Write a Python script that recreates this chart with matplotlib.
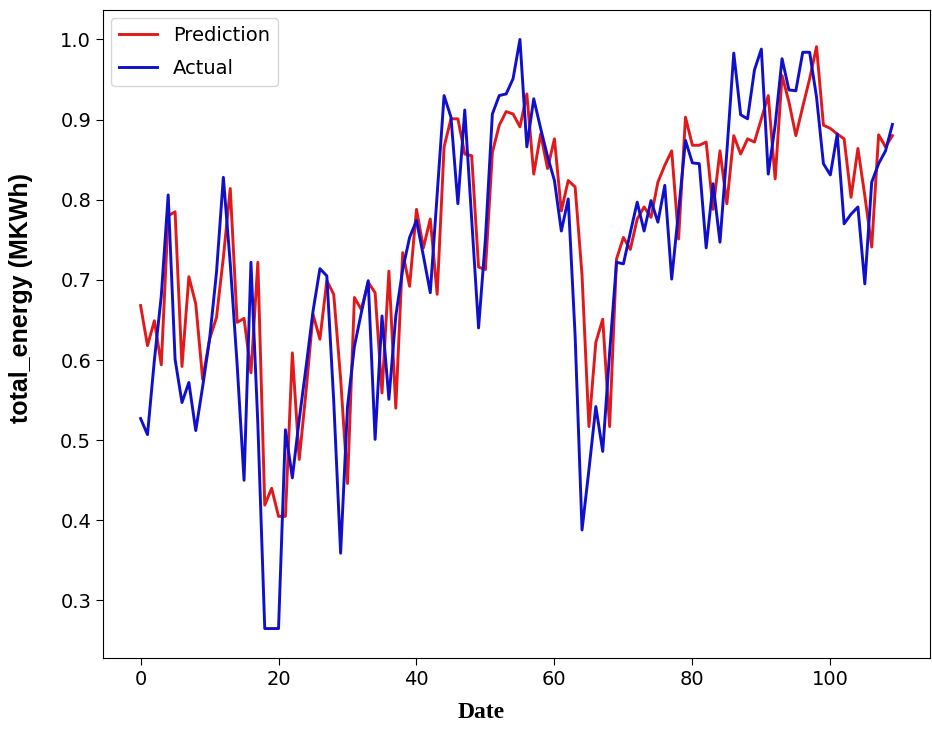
import matplotlib
matplotlib.use("Agg")
import matplotlib.pyplot as plt
import numpy as np

prediction = [
    0.668, 0.618, 0.649, 0.594, 0.780, 0.785, 0.592, 0.704, 0.670, 0.576,
    0.626, 0.653, 0.728, 0.814, 0.647, 0.652, 0.584, 0.722, 0.419, 0.440,
    0.405, 0.405, 0.609, 0.476, 0.562, 0.657, 0.626, 0.699, 0.682, 0.577,
    0.446, 0.678, 0.663, 0.697, 0.684, 0.559, 0.711, 0.540, 0.734, 0.692,
    0.788, 0.740, 0.776, 0.682, 0.866, 0.901, 0.901, 0.857, 0.855, 0.716,
    0.713, 0.859, 0.893, 0.910, 0.907, 0.891, 0.932, 0.832, 0.882, 0.839,
    0.876, 0.786, 0.824, 0.816, 0.706, 0.517, 0.622, 0.651, 0.517, 0.726,
    0.753, 0.738, 0.776, 0.791, 0.778, 0.822, 0.843, 0.861, 0.751, 0.903,
    0.868, 0.868, 0.872, 0.788, 0.861, 0.795, 0.880, 0.857, 0.876, 0.872,
    0.901, 0.930, 0.826, 0.955, 0.922, 0.880, 0.916, 0.951, 0.991, 0.893,
    0.889, 0.882, 0.876, 0.803, 0.864, 0.805, 0.741, 0.881, 0.866, 0.880,
]

actual = [
    0.527, 0.507, 0.600, 0.680, 0.806, 0.601, 0.547, 0.572, 0.512, 0.567,
    0.626, 0.709, 0.828, 0.720, 0.594, 0.450, 0.722, 0.520, 0.265, 0.265,
    0.265, 0.513, 0.453, 0.526, 0.592, 0.661, 0.714, 0.705, 0.549, 0.359,
    0.542, 0.617, 0.659, 0.699, 0.501, 0.655, 0.551, 0.655, 0.713, 0.753,
    0.774, 0.730, 0.684, 0.807, 0.930, 0.903, 0.795, 0.912, 0.776, 0.640,
    0.752, 0.907, 0.930, 0.932, 0.951, 1.000, 0.866, 0.926, 0.889, 0.854,
    0.824, 0.761, 0.801, 0.630, 0.388, 0.463, 0.542, 0.486, 0.609, 0.722,
    0.720, 0.759, 0.797, 0.761, 0.799, 0.772, 0.818, 0.701, 0.786, 0.874,
    0.846, 0.845, 0.740, 0.820, 0.747, 0.860, 0.983, 0.906, 0.901, 0.962,
    0.988, 0.832, 0.893, 0.976, 0.937, 0.936, 0.984, 0.984, 0.928, 0.845,
    0.831, 0.882, 0.770, 0.782, 0.791, 0.695, 0.822, 0.845, 0.861, 0.894,
]

x = np.arange(len(actual))

fig = plt.figure(figsize=(9.32, 7.29), dpi=100)
ax = fig.add_axes([103/932, 1 - 658/729, (930 - 103)/932, (658 - 10)/729])

ax.plot(x, prediction, color="#e01a1a", linewidth=2.1, label="Prediction")
ax.plot(x, actual, color="#1010cc", linewidth=2.1, label="Actual")

ax.tick_params(axis="both", labelsize=14, length=5)
ax.set_xlabel("Date", fontsize=17, fontweight="bold", family="Liberation Serif")
ax.set_ylabel("total_energy (MKWh)", fontsize=18, fontweight="bold", family="Liberation Sans")
ax.xaxis.set_label_coords(0.457, -0.068)
ax.yaxis.set_label_coords(-0.085, 0.556)
ax.legend(loc="upper left", fontsize=14, labelspacing=0.75, borderaxespad=0.4)

fig.savefig("out.png", dpi=100)
